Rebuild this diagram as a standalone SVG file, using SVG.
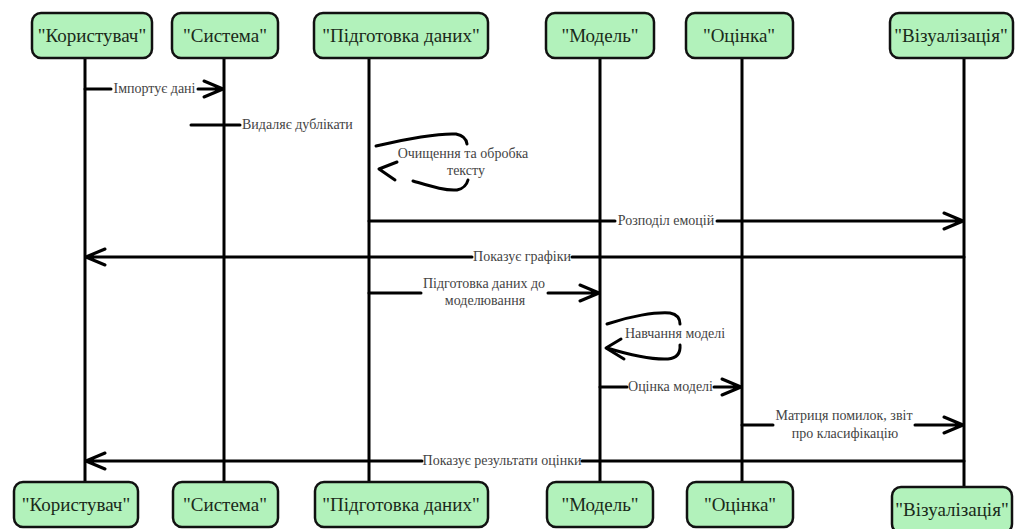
<svg xmlns="http://www.w3.org/2000/svg" width="1020" height="529" viewBox="0 0 1020 529">
  <style>
    .box { fill: #b2f2bb; stroke: #111; stroke-width: 2.5; }
    .name { font-family: 'Liberation Serif', 'Times New Roman', Tinos, 'Noto Serif', 'DejaVu Serif', serif; font-size: 19px; fill: #1a2a1a; text-anchor: middle; }
    .life { stroke: #000; stroke-width: 3; fill: none; }
    .msg { stroke: #000; stroke-width: 3; fill: none; stroke-linecap: round; stroke-linejoin: round; }
    .lbl { font-family: 'Liberation Serif', 'Times New Roman', Tinos, 'Noto Serif', 'DejaVu Serif', serif; font-size: 14px; fill: #444; text-anchor: middle; }
    .lbl-start { text-anchor: start; }
  </style>

  <rect width="1020" height="529" fill="#ffffff"/>

  <!-- lifelines -->
  <g id="lifelines">
    <line class="life" x1="85" y1="58" x2="85" y2="482"/>
    <line class="life" x1="224" y1="58" x2="224" y2="482"/>
    <line class="life" x1="369" y1="58" x2="369" y2="482"/>
    <line class="life" x1="600" y1="58" x2="600" y2="482"/>
    <line class="life" x1="742" y1="58" x2="742" y2="482"/>
    <line class="life" x1="964" y1="58" x2="964" y2="487"/>
  </g>

  <!-- participants, top -->
  <g id="user-top"><rect class="box" x="32" y="13" width="120" height="45" rx="9"/><text class="name" x="92" y="42">"Користувач"</text></g>
  <g id="system-top"><rect class="box" x="172" y="13" width="106" height="45" rx="9"/><text class="name" x="225" y="42">"Система"</text></g>
  <g id="prep-top"><rect class="box" x="314" y="13" width="174" height="45" rx="9"/><text class="name" x="401" y="42">"Підготовка даних"</text></g>
  <g id="model-top"><rect class="box" x="546" y="13" width="108" height="45" rx="9"/><text class="name" x="600" y="42">"Модель"</text></g>
  <g id="eval-top"><rect class="box" x="686" y="13" width="107" height="45" rx="9"/><text class="name" x="739" y="42">"Оцінка"</text></g>
  <g id="viz-top"><rect class="box" x="890" y="13" width="123" height="45" rx="9"/><text class="name" x="951" y="42">"Візуалізація"</text></g>

  <!-- participants, bottom -->
  <g id="user-bottom"><rect class="box" x="14" y="482" width="124" height="45" rx="9"/><text class="name" x="76" y="511">"Користувач"</text></g>
  <g id="system-bottom"><rect class="box" x="173" y="482" width="105" height="45" rx="9"/><text class="name" x="225" y="511">"Система"</text></g>
  <g id="prep-bottom"><rect class="box" x="315" y="482" width="173" height="45" rx="9"/><text class="name" x="401" y="511">"Підготовка даних"</text></g>
  <g id="model-bottom"><rect class="box" x="547" y="482" width="106" height="45" rx="9"/><text class="name" x="600" y="511">"Модель"</text></g>
  <g id="eval-bottom"><rect class="box" x="687" y="482" width="106" height="45" rx="9"/><text class="name" x="740" y="511">"Оцінка"</text></g>
  <g id="viz-bottom"><rect class="box" x="892" y="487" width="120" height="46" rx="9"/><text class="name" x="952" y="516">"Візуалізація"</text></g>

  <!-- messages -->
  <g id="connectors">
    <!-- Імпортує дані -->
    <path class="msg" d="M85,89 H111 M198,89 H223 M204,81 L223,89 L204,97"/>
    <text class="lbl" x="154.500" y="93">Імпортує дані</text>

    <!-- Видаляє дублікати -->
    <path class="msg" d="M191,125 H240"/>
    <text class="lbl lbl-start" x="242" y="129">Видаляє дублікати</text>

    <!-- Очищення та обробка тексту (self) -->
    <path class="msg" d="M376,146 C405,139 440,133 456,134 Q466,136 467,144"/>
    <path class="msg" d="M413,181 C430,186 445,191 457,190 Q466,188 468,180"/>
    <path class="msg" d="M397,162 L379,169 L395,180"/>
    <text class="lbl" x="463" y="158">Очищення та обробка</text>
    <text class="lbl" x="466" y="175">тексту</text>

    <!-- Розподіл емоцій -->
    <path class="msg" d="M369,221 H615 M717,221 H963 M944,213 L963,221 L944,229"/>
    <text class="lbl" x="666" y="225">Розподіл емоцій</text>

    <!-- Показує графіки -->
    <path class="msg" d="M964,257 H572 M472,257 H86 M105,249 L86,257 L105,265"/>
    <text class="lbl" x="522" y="261">Показує графіки</text>

    <!-- Підготовка даних до моделювання -->
    <path class="msg" d="M369,293 H421 M548,293 H599 M580,285 L599,293 L580,301"/>
    <text class="lbl" x="484" y="288">Підготовка даних до</text>
    <text class="lbl" x="485" y="305">моделювання</text>

    <!-- Навчання моделі (self) -->
    <path class="msg" d="M607,324 C630,316 655,312 670,313 Q680,315 680,324"/>
    <path class="msg" d="M680,345 Q681,358 668,359 C650,360 630,355 607,348"/>
    <path class="msg" d="M621,339 L606,348 L624,359"/>
    <text class="lbl" x="675" y="338">Навчання моделі</text>

    <!-- Оцінка моделі -->
    <path class="msg" d="M600,387 H627 M714,387 H741 M722,379 L741,387 L722,395"/>
    <text class="lbl" x="670.500" y="391">Оцінка моделі</text>

    <!-- Матриця помилок, звіт про класифікацію -->
    <path class="msg" d="M742,425 H773 M915,425 H963 M944,417 L963,425 L944,433"/>
    <text class="lbl" x="844" y="420">Матриця помилок, звіт</text>
    <text class="lbl" x="845" y="438">про класифікацію</text>

    <!-- Показує результати оцінки -->
    <path class="msg" d="M964,461 H582 M422,461 H86 M105,453 L86,461 L105,469"/>
    <text class="lbl" x="502" y="465">Показує результати оцінки</text>
  </g>
</svg>
